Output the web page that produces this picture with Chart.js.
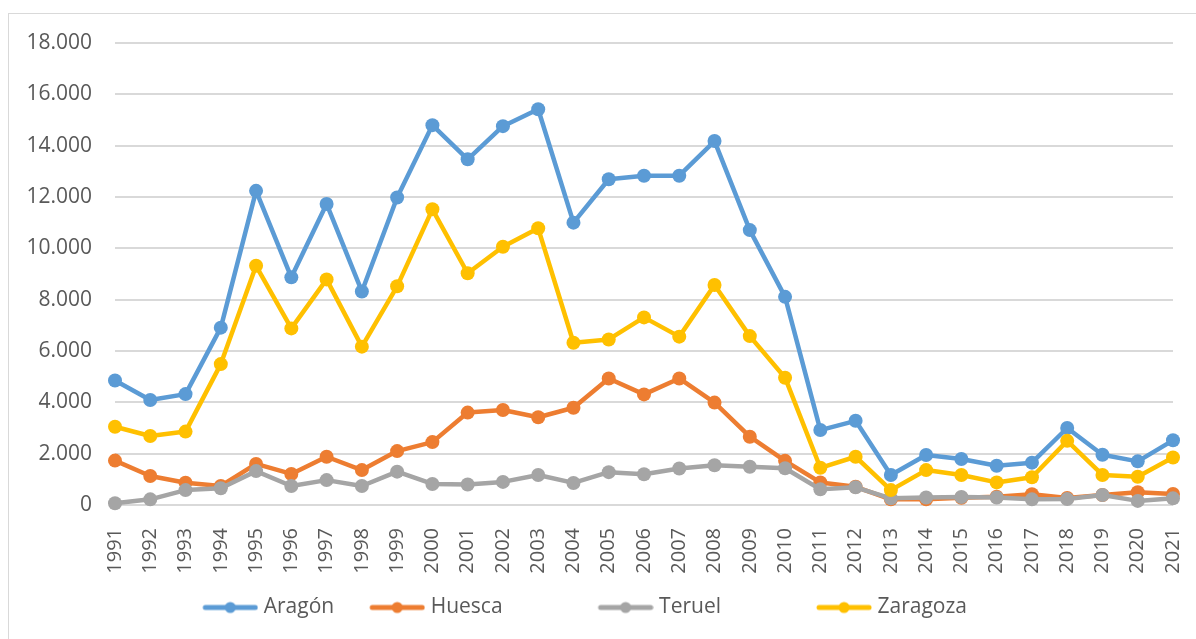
<!DOCTYPE html>
<html>
<head>
<meta charset="utf-8">
<title>Aragón</title>
<script src="https://cdn.jsdelivr.net/npm/chart.js@4.4.0/dist/chart.umd.min.js"></script>
<style>
    html, body { margin: 0; padding: 0; background: #ffffff; }
    #wrap { position: relative; width: 1196px; height: 639px; overflow: hidden; }
    #frame { position: absolute; left: 8px; top: 13px; width: 1220px; height: 660px; border: 1px solid #d9d9d9; box-sizing: border-box; }
    #chart { position: absolute; left: 0; top: 0; }
</style>
</head>
<body>
<div id="wrap">
    <div id="frame"></div>
    <canvas id="chart" width="1196" height="639"></canvas>
</div>
<script>
// Data
const years = ["1991", "1992", "1993", "1994", "1995", "1996", "1997", "1998", "1999", "2000",
    "2001", "2002", "2003", "2004", "2005", "2006", "2007", "2008", "2009", "2010",
    "2011", "2012", "2013", "2014", "2015", "2016", "2017", "2018", "2019", "2020", "2021"];

const aragon = [4850, 4090, 4320, 6910, 12240, 8870, 11730, 8320, 11980, 14800,
    13470, 14760, 15420, 11000, 12690, 12830, 12830, 14180, 10710, 8110,
    2920, 3280, 1170, 1950, 1790, 1530, 1650, 3000, 1960, 1700, 2520];

const huesca = [1730, 1130, 870, 740, 1600, 1210, 1880, 1360, 2100, 2450,
    3600, 3700, 3420, 3790, 4930, 4310, 4930, 3990, 2660, 1720,
    880, 710, 220, 220, 280, 320, 420, 270, 390, 500, 430];

const teruel = [70, 220, 580, 650, 1320, 740, 970, 740, 1300, 820,
    800, 900, 1170, 860, 1280, 1200, 1420, 1550, 1490, 1430,
    610, 690, 260, 290, 310, 290, 220, 230, 390, 160, 260];

const zaragoza = [3050, 2690, 2860, 5490, 9320, 6880, 8790, 6170, 8520, 11520,
    9030, 10060, 10780, 6320, 6450, 7310, 6560, 8570, 6580, 4960,
    1450, 1880, 580, 1360, 1170, 880, 1080, 2500, 1170, 1100, 1850];

const seriesNames = ["Aragón", "Huesca", "Teruel", "Zaragoza"];
const seriesColors = ["#5b9bd5", "#ed7d31", "#a5a5a5", "#ffc000"];

const textColor = "#595959";
const gridColor = "#d9d9d9";
const fontFamily = "'Open Sans', 'Liberation Sans', sans-serif";
const fontSize = 21;

// Legend marks: line with a dot, like the spreadsheet legend.
// A bit of blank on the left gives the wider spacing between entries.
function makeLegendMark(color) {
    var c = document.createElement("canvas");
    c.width = 73;
    c.height = 14;
    var ctx = c.getContext("2d");
    ctx.strokeStyle = color;
    ctx.lineWidth = 5;
    ctx.lineCap = "round";
    ctx.beginPath();
    ctx.moveTo(20, 7);
    ctx.lineTo(70, 7);
    ctx.stroke();
    ctx.fillStyle = color;
    ctx.beginPath();
    ctx.arc(45, 7, 5.5, 0, 2 * Math.PI);
    ctx.fill();
    return c;
}
const legendMarks = seriesColors.map(makeLegendMark);
// extra spacing after each legend entry (number of no-break spaces)
const legendTails = [0, 11, 11, 6];

function thousands(v) {
    return String(v).replace(/\B(?=(\d{3})+(?!\d))/g, ".");
}

function makeDataset(i, values) {
    return {
        label: seriesNames[i],
        data: values,
        borderColor: seriesColors[i],
        backgroundColor: seriesColors[i],
        pointBackgroundColor: seriesColors[i],
        pointBorderWidth: 0,
        pointRadius: 7,
        borderWidth: 4.5,
        borderJoinStyle: "round",
        borderCapStyle: "round",
        tension: 0,
        fill: false,
        clip: false,
        order: 4 - i // later series on top, like the original
    };
}

new Chart(document.getElementById("chart"), {
    type: "line",
    data: {
        labels: years,
        datasets: [
            makeDataset(0, aragon),
            makeDataset(1, huesca),
            makeDataset(2, teruel),
            makeDataset(3, zaragoza)
        ]
    },
    options: {
        responsive: false,
        animation: false,
        layout: {
            padding: { left: 0, right: 6, top: 43, bottom: 11 }
        },
        scales: {
            x: {
                grid: { display: false },
                border: { display: false },
                ticks: {
                    autoSkip: false,
                    maxRotation: 90,
                    minRotation: 90,
                    padding: 15,
                    color: textColor,
                    font: { family: fontFamily, size: 20 }
                },
                afterFit: function (scale) {
                    scale.height = 69;
                    scale.paddingRight = 23;
                }
            },
            y: {
                min: 0,
                max: 18000,
                grid: { color: gridColor, lineWidth: 2, drawTicks: false },
                border: { display: false },
                ticks: {
                    stepSize: 2000,
                    padding: 23,
                    color: textColor,
                    font: { family: fontFamily, size: fontSize },
                    callback: function (v) { return thousands(v); }
                },
                afterFit: function (scale) { scale.width = 115; }
            }
        },
        plugins: {
            tooltip: { enabled: false },
            legend: {
                position: "bottom",
                labels: {
                    usePointStyle: true,
                    pointStyleWidth: 63,
                    padding: 23,
                    color: textColor,
                    font: { family: fontFamily, size: fontSize },
                    sort: function (a, b) { return a.datasetIndex - b.datasetIndex; },
                    generateLabels: function (chart) {
                        var items = Chart.defaults.plugins.legend.labels.generateLabels(chart);
                        items.forEach(function (it) {
                            it.pointStyle = legendMarks[it.datasetIndex];
                            it.text = it.text + "\u00a0".repeat(legendTails[it.datasetIndex]);
                        });
                        return items;
                    }
                }
            }
        }
    }
});
</script>
</body>
</html>
